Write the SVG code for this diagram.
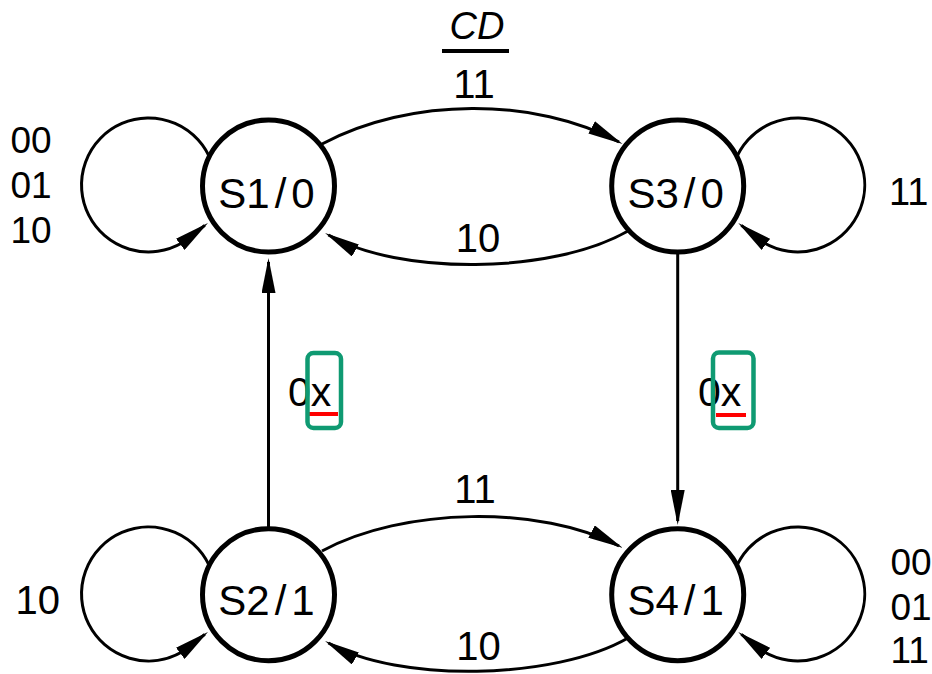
<svg xmlns="http://www.w3.org/2000/svg" width="932" height="674" viewBox="0 0 932 674">
<style>
.edge{fill:none;stroke:#000;stroke-width:3}
.node circle{fill:#fff;stroke:#000;stroke-width:5}
.t{font-family:"Liberation Sans",Arial,sans-serif;fill:#000}
.nl{font-size:42px;text-anchor:middle}
.el{font-size:40px}
.sl{font-size:37px}
.hl{fill:none;stroke:#0f9a72;stroke-width:4.5}
.ul{fill:#ff0000}
</style>
<defs>
<marker id="ah" markerUnits="userSpaceOnUse" viewBox="0 0 35 14" markerWidth="35" markerHeight="14" refX="31" refY="7" orient="auto">
<path d="M0,0 L35,7 L0,14 z" fill="#000"/>
</marker>
</defs>
<rect width="932" height="674" fill="#fff"/>
<g id="connectors">
<path class="edge" marker-end="url(#ah)" d="M211.5,162.1 A67,67 0 1,0 182.3,242.8 L204.8,225.4"/>
<path class="edge" marker-end="url(#ah)" d="M734.7,162.1 A67,67 0 1,1 763.9,242.8 L741.4,225.4"/>
<path class="edge" marker-end="url(#ah)" d="M211.5,571.1 A67,67 0 1,0 182.3,651.8 L204.8,634.4"/>
<path class="edge" marker-end="url(#ah)" d="M734.7,571.1 A67,67 0 1,1 763.9,651.8 L741.4,634.4"/>
<path class="edge" marker-end="url(#ah)" d="M322,144 C410,97 535,97 619,142"/>
<path class="edge" marker-end="url(#ah)" d="M628,231 C551,275 398,275 328.5,235"/>
<path class="edge" marker-end="url(#ah)" d="M322,551 C403,507 541,505 619,546"/>
<path class="edge" marker-end="url(#ah)" d="M628,638 C555,680 398,683 328.5,643"/>
<path class="edge" marker-end="url(#ah)" d="M268.5,540 L268.5,262"/>
<path class="edge" marker-end="url(#ah)" d="M677.7,240 L677.7,521"/>
</g>
<g id="S1" class="node">
<circle cx="268.5" cy="186" r="66"/>
<text class="t nl" x="266.5" y="208">S1<tspan dx="5">/</tspan><tspan dx="5">0</tspan></text>
</g>
<g id="S3" class="node">
<circle cx="677.7" cy="186" r="66"/>
<text class="t nl" x="675.7" y="208">S3<tspan dx="5">/</tspan><tspan dx="5">0</tspan></text>
</g>
<g id="S2" class="node">
<circle cx="268.5" cy="594.7" r="66"/>
<text class="t nl" x="266.5" y="615">S2<tspan dx="5">/</tspan><tspan dx="5">1</tspan></text>
</g>
<g id="S4" class="node">
<circle cx="677.7" cy="594.7" r="66"/>
<text class="t nl" x="675.7" y="615">S4<tspan dx="5">/</tspan><tspan dx="5">1</tspan></text>
</g>
<g id="labels">
<text class="t" x="477" y="39" font-size="38" font-style="italic" text-anchor="middle">CD</text>
<rect x="442" y="49" width="67" height="4" fill="#000"/>
<text class="t el" x="474" y="98" text-anchor="middle">11</text>
<text class="t el" x="478" y="252" text-anchor="middle">10</text>
<text class="t el" x="475" y="503" text-anchor="middle">11</text>
<text class="t el" x="478.5" y="660" text-anchor="middle">10</text>
<text class="t sl" x="10.5" y="153">00</text>
<text class="t sl" x="10.5" y="198">01</text>
<text class="t sl" x="10.5" y="243">10</text>
<text class="t" x="889" y="205" font-size="38">11</text>
<text class="t el" x="15.6" y="614">10</text>
<text class="t sl" x="890.5" y="575">00</text>
<text class="t sl" x="890.5" y="620">01</text>
<text class="t sl" x="890.5" y="663">11</text>
<text class="t" x="288" y="406" font-size="41">0x</text>
<rect class="ul" x="309" y="412" width="29" height="4"/>
<rect class="hl" x="307.5" y="353" width="33.5" height="75" rx="6"/>
<text class="t" x="698" y="406" font-size="41">0x</text>
<rect class="ul" x="716" y="413" width="30" height="4"/>
<rect class="hl" x="713" y="352.5" width="40.5" height="75.5" rx="6"/>
</g>
</svg>
